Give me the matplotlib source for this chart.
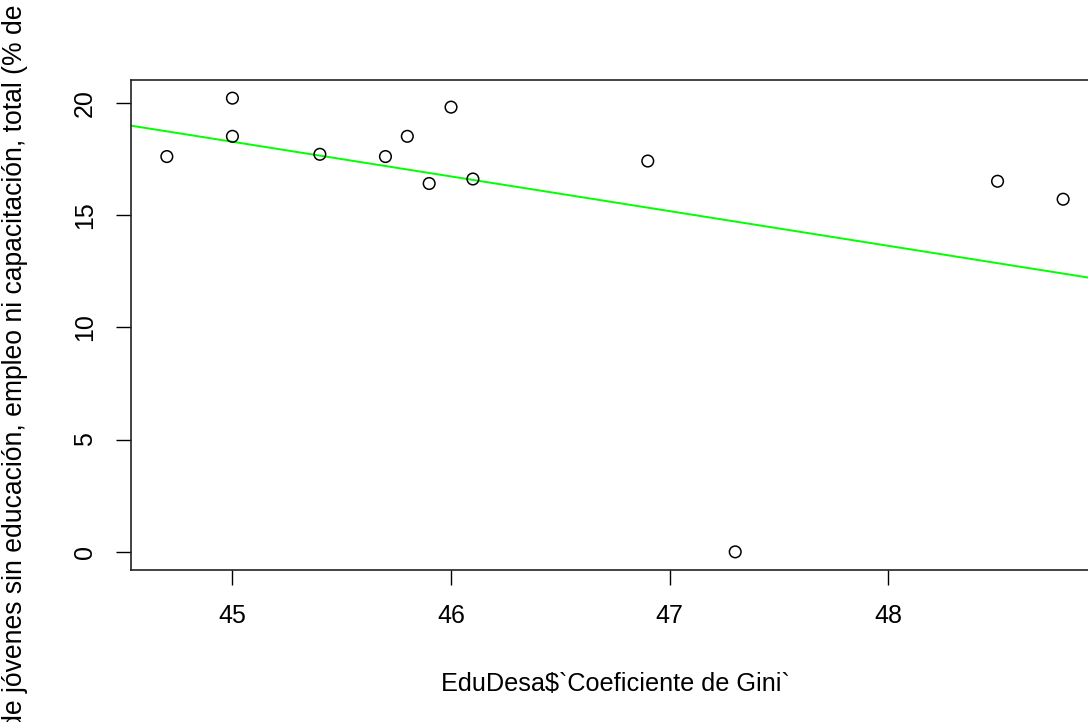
import numpy as np
import matplotlib
matplotlib.use("Agg")
import matplotlib.pyplot as plt

plt.rcParams['font.family'] = ['Liberation Sans', 'DejaVu Sans']

# ===== データ =====
gini = [44.7, 45.0, 45.0, 45.4, 45.7, 45.8, 45.9, 46.0, 46.1, 46.9, 47.3, 48.5, 48.8]
nini = [17.6, 20.2, 18.5, 17.7, 17.6, 18.5, 16.4, 19.8, 16.6, 17.4, 0.0, 16.5, 15.7]
x_ticks = [45, 46, 47, 48]
y_ticks = [0, 5, 10, 15, 20]

xlab = "EduDesa$`Coeficiente de Gini`"
ylab = ("EduDesa$`Proporción de jóvenes sin educación, empleo ni "
        "capacitación, total (% de la población joven)`")

x = np.array(gini)
y = np.array(nini)
slope, intercept = np.polyfit(x, y, 1)

# R の既定 4% 余白
def r_range(v):
    lo, hi = min(v), max(v)
    d = (hi - lo) * 0.04
    return lo - d, hi + d

fig = plt.figure(figsize=(10.88, 7.22), dpi=100)
ax = fig.add_axes([0.1204, 0.2105, 0.8897, 0.6787])

ax.scatter(x, y, s=70, facecolors='none', edgecolors='black', linewidths=1.1, zorder=3)

xlim = r_range(gini)
ylim = r_range(nini)
xx = np.array([xlim[0] - 1, xlim[1] + 1])
ax.plot(xx, intercept + slope * xx, color='#00ff00', lw=1.4, zorder=2)

ax.set_xlim(xlim)
ax.set_ylim(ylim)
ax.set_xticks(x_ticks)
ax.set_yticks(y_ticks)
ax.tick_params(direction='out', length=10.5, width=1, labelsize=18, pad=14)
for lab in ax.get_yticklabels():
    lab.set_rotation(90)
    lab.set_va('center')
for s in ax.spines.values():
    s.set_color('#222222')
    s.set_linewidth(1.2)

ax.set_xlabel(xlab, fontsize=18.2, labelpad=32)
ax.set_ylabel(ylab, fontsize=19.1)
ax.yaxis.set_label_coords(-0.106, 0.383)

fig.savefig("out.png", dpi=100)
